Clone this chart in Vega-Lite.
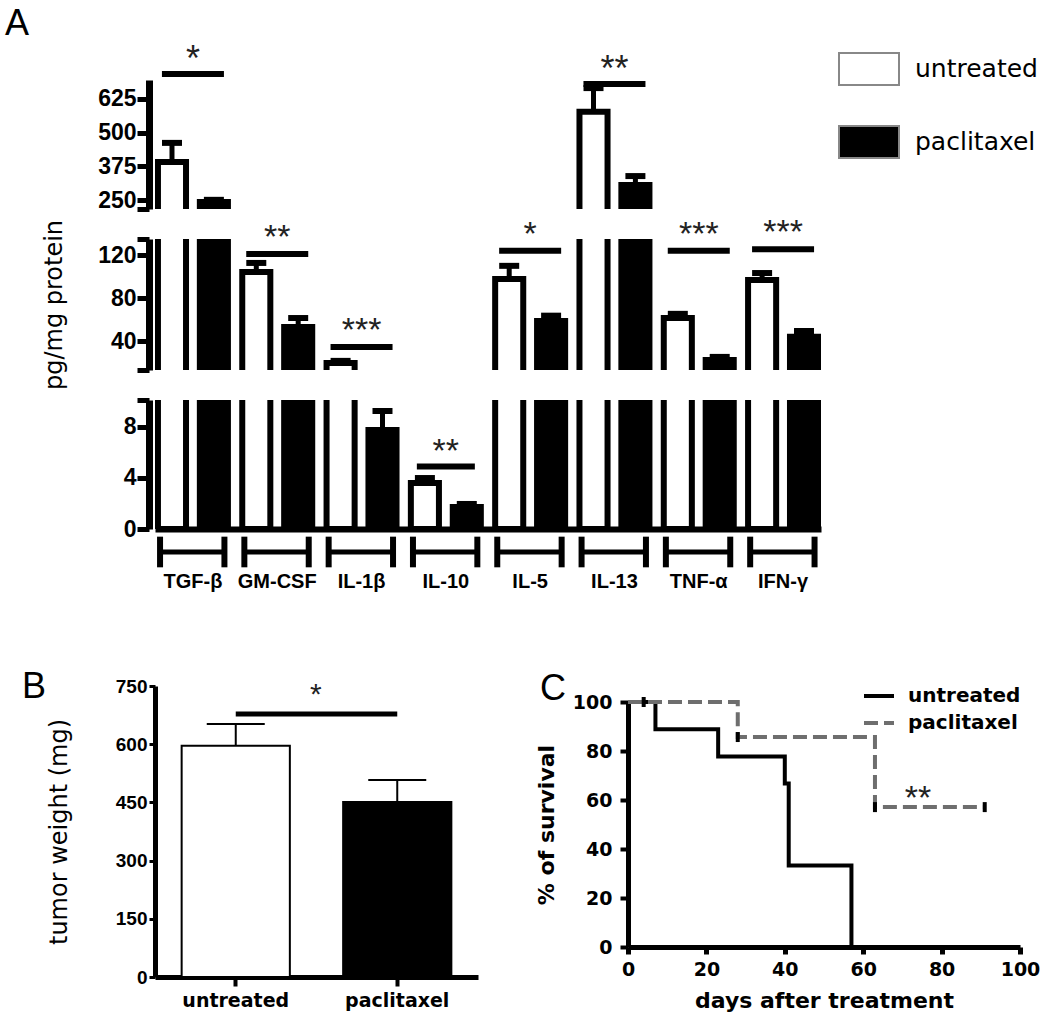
{
  "$schema": "https://vega.github.io/schema/vega-lite/v6.json",
  "padding": {"left": 5, "top": 6, "right": 5, "bottom": 5},
  "autosize": {"type": "pad"},
  "background": "white",
  "datasets": {
    "cyto": [
      {"cytokine": "TGF-β", "group": "untreated", "mean": 391, "upper": 462},
      {"cytokine": "TGF-β", "group": "paclitaxel", "mean": 243, "upper": 251},
      {"cytokine": "GM-CSF", "group": "untreated", "mean": 104.3, "upper": 112.7},
      {"cytokine": "GM-CSF", "group": "paclitaxel", "mean": 53.1, "upper": 61.4},
      {"cytokine": "IL-1β", "group": "untreated", "mean": 19.6, "upper": 21.5},
      {"cytokine": "IL-1β", "group": "paclitaxel", "mean": 7.75, "upper": 9.24},
      {"cytokine": "IL-10", "group": "untreated", "mean": 3.6, "upper": 3.99},
      {"cytokine": "IL-10", "group": "paclitaxel", "mean": 1.72, "upper": 1.96},
      {"cytokine": "IL-5", "group": "untreated", "mean": 97.7, "upper": 110},
      {"cytokine": "IL-5", "group": "paclitaxel", "mean": 58.6, "upper": 63.6},
      {"cytokine": "IL-13", "group": "untreated", "mean": 577, "upper": 665},
      {"cytokine": "IL-13", "group": "paclitaxel", "mean": 306, "upper": 339},
      {"cytokine": "TNF-α", "group": "untreated", "mean": 61.4, "upper": 65.3},
      {"cytokine": "TNF-α", "group": "paclitaxel", "mean": 22.4, "upper": 25.2},
      {"cytokine": "IFN-γ", "group": "untreated", "mean": 96.8, "upper": 103.3},
      {"cytokine": "IFN-γ", "group": "paclitaxel", "mean": 43.9, "upper": 49.3}
    ],
    "sig": [
      {"section": "top", "cytokine": "TGF-β", "level": 717, "label": "*"},
      {"section": "top", "cytokine": "IL-13", "level": 680, "label": "**"},
      {"section": "mid", "cytokine": "GM-CSF", "level": 121, "label": "**"},
      {"section": "mid", "cytokine": "IL-1β", "level": 34.4, "label": "***"},
      {"section": "mid", "cytokine": "IL-5", "level": 124, "label": "*"},
      {"section": "mid", "cytokine": "TNF-α", "level": 124, "label": "***"},
      {"section": "mid", "cytokine": "IFN-γ", "level": 125.5, "label": "***"},
      {"section": "bottom", "cytokine": "IL-10", "level": 4.9, "label": "**"}
    ],
    "tumor": [
      {"group": "untreated", "mean": 596, "upper": 652},
      {"group": "paclitaxel", "mean": 451, "upper": 508}
    ],
    "sigB": [
      {"from": "untreated", "to": "paclitaxel", "level": 678, "label": "*"}
    ],
    "surv": [
      {"group": "untreated", "day": 0, "pct": 100},
      {"group": "untreated", "day": 7, "pct": 88.9},
      {"group": "untreated", "day": 23, "pct": 77.8},
      {"group": "untreated", "day": 40, "pct": 66.7},
      {"group": "untreated", "day": 41, "pct": 33.3},
      {"group": "untreated", "day": 57, "pct": 0},
      {"group": "paclitaxel", "day": 0, "pct": 100},
      {"group": "paclitaxel", "day": 28, "pct": 85.7},
      {"group": "paclitaxel", "day": 63, "pct": 57.1},
      {"group": "paclitaxel", "day": 91, "pct": 57.1}
    ],
    "censor": [
      {"group": "untreated", "day": 4, "pct": 100},
      {"group": "paclitaxel", "day": 28, "pct": 85.7},
      {"group": "paclitaxel", "day": 63, "pct": 57.1},
      {"group": "paclitaxel", "day": 91, "pct": 57.1}
    ],
    "sigC": [
      {"day": 74, "pct": 57.1, "label": "**"}
    ]
  },
  "spacing": 30,
  "bounds": "flush",
  "resolve": {"scale": {"fill": "independent", "color": "independent", "strokeDash": "independent"}},
  "vconcat": [
    {
      "width": 666, "height": 129,
      "title": {"text": "A", "dx": -150, "dy": 1, "offset": -4},
      "encoding": {
        "x": {"field": "cytokine", "type": "nominal", "sort": ["TGF-β", "GM-CSF", "IL-1β", "IL-10", "IL-5", "IL-13", "TNF-α", "IFN-γ"], "scale": {"paddingInner": 0.17, "paddingOuter": 0.035}, "axis": null}
      },
      "layer": [
        {
          "data": {"name": "cyto"},
          "mark": {"type": "bar", "clip": true, "stroke": "black", "strokeWidth": 6},
          "encoding": {
            "xOffset": {"field": "group", "type": "nominal", "sort": ["untreated", "paclitaxel"], "scale": {"paddingInner": 0.33, "paddingOuter": 0}},
            "y": {"field": "mean", "type": "quantitative", "title": null, "scale": {"domain": [217, 695], "nice": false, "zero": false},
              "axis": {"values": [217, 250, 375, 500, 625], "tickCount": 20, "labelExpr": "datum.value < 240 ? '' : datum.label", "labelOverlap": false, "title": null, "offset": 6, "domainWidth": 7, "tickWidth": 5, "tickSize": 12, "labelFontSize": 23, "labelPadding": 1}},
            "y2": {"datum": 0},
            "fill": {"field": "group", "type": "nominal", "scale": {"domain": ["untreated", "paclitaxel"], "range": ["white", "black"]},
              "legend": {"orient": "none", "legendX": 683, "legendY": -42, "title": null, "symbolType": "M-1,-0.533H1V0.533H-1Z", "symbolSize": 3600, "symbolStrokeColor": "#888888", "symbolStrokeWidth": 2, "labelFont": "DejaVu Sans", "labelFontSize": 25, "labelFontWeight": "normal", "labelOffset": 15, "rowPadding": 22, "padding": 0, "labelColor": "black"}}
          }
        },
        {
          "data": {"name": "cyto"},
          "mark": {"type": "rule", "clip": true, "strokeWidth": 5, "color": "black"},
          "encoding": {
            "xOffset": {"field": "group", "type": "nominal", "sort": ["untreated", "paclitaxel"]},
            "y": {"field": "mean", "type": "quantitative", "title": null},
            "y2": {"field": "upper"}
          }
        },
        {
          "data": {"name": "cyto"},
          "mark": {"type": "tick", "clip": true, "thickness": 6, "size": 20, "orient": "horizontal", "color": "black", "opacity": 1},
          "encoding": {
            "xOffset": {"field": "group", "type": "nominal", "sort": ["untreated", "paclitaxel"]},
            "y": {"field": "upper", "type": "quantitative", "title": null}
          }
        },
        {
          "data": {"name": "sig"},
          "transform": [{"filter": "datum.section == 'top'"}],
          "mark": {"type": "tick", "thickness": 6, "size": 62, "orient": "horizontal", "color": "black", "opacity": 1},
          "encoding": {"y": {"field": "level", "type": "quantitative", "title": null}}
        },
        {
          "data": {"name": "sig"},
          "transform": [{"filter": "datum.section == 'top'"}],
          "mark": {"type": "text", "fontSize": 36, "font": "Liberation Sans", "baseline": "alphabetic", "dy": -3, "color": "#222222"},
          "encoding": {"y": {"field": "level", "type": "quantitative", "title": null}, "text": {"field": "label"}}
        }
      ]
    },
    {
      "width": 666, "height": 131,
      "encoding": {
        "x": {"field": "cytokine", "type": "nominal", "sort": ["TGF-β", "GM-CSF", "IL-1β", "IL-10", "IL-5", "IL-13", "TNF-α", "IFN-γ"], "scale": {"paddingInner": 0.17, "paddingOuter": 0.035}, "axis": null}
      },
      "layer": [
        {
          "data": {"name": "cyto"},
          "mark": {"type": "bar", "clip": true, "stroke": "black", "strokeWidth": 6},
          "encoding": {
            "xOffset": {"field": "group", "type": "nominal", "sort": ["untreated", "paclitaxel"], "scale": {"paddingInner": 0.33, "paddingOuter": 0}},
            "y": {"field": "mean", "type": "quantitative", "title": "pg/mg protein", "scale": {"domain": [13, 135], "nice": false, "zero": false},
              "axis": {"values": [13, 40, 80, 120, 135], "tickCount": 20, "labelExpr": "(datum.value < 20 || datum.value > 130) ? '' : datum.label", "labelOverlap": false, "title": "pg/mg protein", "titleFont": "DejaVu Sans", "titleFontSize": 24, "titleFontWeight": "normal", "titlePadding": 31, "offset": 6, "domainWidth": 7, "tickWidth": 5, "tickSize": 12, "labelFontSize": 23, "labelPadding": 1}},
            "y2": {"datum": 0},
            "fill": {"field": "group", "type": "nominal", "scale": {"domain": ["untreated", "paclitaxel"], "range": ["white", "black"]}, "legend": null}
          }
        },
        {
          "data": {"name": "cyto"},
          "mark": {"type": "rule", "clip": true, "strokeWidth": 5, "color": "black"},
          "encoding": {
            "xOffset": {"field": "group", "type": "nominal", "sort": ["untreated", "paclitaxel"]},
            "y": {"field": "mean", "type": "quantitative", "title": "pg/mg protein"},
            "y2": {"field": "upper"}
          }
        },
        {
          "data": {"name": "cyto"},
          "mark": {"type": "tick", "clip": true, "thickness": 6, "size": 20, "orient": "horizontal", "color": "black", "opacity": 1},
          "encoding": {
            "xOffset": {"field": "group", "type": "nominal", "sort": ["untreated", "paclitaxel"]},
            "y": {"field": "upper", "type": "quantitative", "title": "pg/mg protein"}
          }
        },
        {
          "data": {"name": "sig"},
          "transform": [{"filter": "datum.section == 'mid'"}],
          "mark": {"type": "tick", "thickness": 6, "size": 62, "orient": "horizontal", "color": "black", "opacity": 1},
          "encoding": {"y": {"field": "level", "type": "quantitative", "title": "pg/mg protein"}}
        },
        {
          "data": {"name": "sig"},
          "transform": [{"filter": "datum.section == 'mid'"}],
          "mark": {"type": "text", "fontSize": 34, "font": "Liberation Sans", "baseline": "alphabetic", "dy": -6, "color": "#222222"},
          "encoding": {"y": {"field": "level", "type": "quantitative", "title": "pg/mg protein"}, "text": {"field": "label"}}
        }
      ]
    },
    {
      "width": 666, "height": 129,
      "encoding": {
        "x": {"field": "cytokine", "type": "nominal", "sort": ["TGF-β", "GM-CSF", "IL-1β", "IL-10", "IL-5", "IL-13", "TNF-α", "IFN-γ"], "scale": {"paddingInner": 0.17, "paddingOuter": 0.035},
          "axis": {"title": null, "labelAngle": 0, "ticks": false, "domainWidth": 6, "labelPadding": 42, "labelFontSize": 20, "labelFont": "Liberation Sans", "labelFontWeight": "bold"}}
      },
      "layer": [
        {
          "data": {"name": "cyto"},
          "mark": {"type": "bar", "clip": true, "stroke": "black", "strokeWidth": 6},
          "encoding": {
            "xOffset": {"field": "group", "type": "nominal", "sort": ["untreated", "paclitaxel"], "scale": {"paddingInner": 0.33, "paddingOuter": 0}},
            "y": {"field": "mean", "type": "quantitative", "title": null, "scale": {"domain": [0, 10.1], "nice": false, "zero": false},
              "axis": {"values": [0, 4, 8, 10.1], "tickCount": 20, "format": ".0f", "labelExpr": "datum.value > 10 ? '' : datum.label", "labelOverlap": false, "title": null, "offset": 6, "domainWidth": 7, "tickWidth": 5, "tickSize": 12, "labelFontSize": 23, "labelPadding": 1}},
            "y2": {"datum": 0},
            "fill": {"field": "group", "type": "nominal", "scale": {"domain": ["untreated", "paclitaxel"], "range": ["white", "black"]}, "legend": null}
          }
        },
        {
          "data": {"name": "cyto"},
          "mark": {"type": "rule", "clip": true, "strokeWidth": 5, "color": "black"},
          "encoding": {
            "xOffset": {"field": "group", "type": "nominal", "sort": ["untreated", "paclitaxel"]},
            "y": {"field": "mean", "type": "quantitative", "title": null},
            "y2": {"field": "upper"}
          }
        },
        {
          "data": {"name": "cyto"},
          "mark": {"type": "tick", "clip": true, "thickness": 6, "size": 20, "orient": "horizontal", "color": "black", "opacity": 1},
          "encoding": {
            "xOffset": {"field": "group", "type": "nominal", "sort": ["untreated", "paclitaxel"]},
            "y": {"field": "upper", "type": "quantitative", "title": null}
          }
        },
        {
          "data": {"name": "sig"},
          "transform": [{"filter": "datum.section == 'bottom'"}],
          "mark": {"type": "tick", "thickness": 6, "size": 58, "orient": "horizontal", "color": "black", "opacity": 1},
          "encoding": {"y": {"field": "level", "type": "quantitative", "title": null}}
        },
        {
          "data": {"name": "sig"},
          "transform": [{"filter": "datum.section == 'bottom'"}],
          "mark": {"type": "text", "fontSize": 34, "font": "Liberation Sans", "baseline": "alphabetic", "dy": -4, "color": "#222222"},
          "encoding": {"y": {"field": "level", "type": "quantitative", "title": null}, "text": {"field": "label"}}
        },
        {
          "data": {"name": "cyto"},
          "transform": [{"filter": "datum.group == 'untreated'"}],
          "mark": {"type": "tick", "thickness": 5, "size": 66, "orient": "horizontal", "color": "black", "opacity": 1},
          "encoding": {"y": {"datum": -1.8, "type": "quantitative"}}
        },
        {
          "data": {"name": "cyto"},
          "transform": [{"filter": "datum.group == 'untreated'"}],
          "mark": {"type": "rule", "strokeWidth": 6, "color": "black"},
          "encoding": {
            "x": {"field": "cytokine", "type": "nominal", "sort": ["TGF-β", "GM-CSF", "IL-1β", "IL-10", "IL-5", "IL-13", "TNF-α", "IFN-γ"], "bandPosition": 0.03},
            "y": {"datum": -0.6, "type": "quantitative"},
            "y2": {"datum": -3.0}
          }
        },
        {
          "data": {"name": "cyto"},
          "transform": [{"filter": "datum.group == 'untreated'"}],
          "mark": {"type": "rule", "strokeWidth": 6, "color": "black"},
          "encoding": {
            "x": {"field": "cytokine", "type": "nominal", "sort": ["TGF-β", "GM-CSF", "IL-1β", "IL-10", "IL-5", "IL-13", "TNF-α", "IFN-γ"], "bandPosition": 0.95},
            "y": {"datum": -0.6, "type": "quantitative"},
            "y2": {"datum": -3.0}
          }
        }
      ]
    },
    {
      "width": 10, "height": 97,
      "data": {"values": [{}]},
      "mark": {"type": "point", "opacity": 0},
      "encoding": {}
    },
    {
      "resolve": {"scale": {"fill": "independent", "color": "independent", "strokeDash": "independent"}},
      "hconcat": [
        {
          "width": 323, "height": 291,
          "title": {"text": "B", "dx": -133, "dy": 33},
          "encoding": {
            "x": {"field": "group", "type": "nominal", "sort": ["untreated", "paclitaxel"], "scale": {"domain": ["untreated", "paclitaxel"], "paddingInner": 0.33, "paddingOuter": 0.165},
              "axis": {"title": null, "labelAngle": 0, "labelFont": "DejaVu Sans", "labelFontWeight": "bold", "labelFontSize": 19, "tickSize": 9, "tickWidth": 4, "domainWidth": 5, "labelPadding": 5}}
          },
          "layer": [
            {
              "data": {"name": "tumor"},
              "mark": {"type": "bar", "stroke": "black", "strokeWidth": 2},
              "encoding": {
                "y": {"field": "mean", "type": "quantitative", "scale": {"domain": [0, 750], "nice": false},
                  "axis": {"values": [0, 150, 300, 450, 600, 750], "tickCount": 20, "labelOverlap": false, "title": "tumor weight (mg)", "titleFont": "DejaVu Sans", "titleFontSize": 24, "titleFontWeight": "normal", "titlePadding": 44, "labelFontSize": 19, "tickSize": 6, "tickWidth": 3, "domainWidth": 5, "labelPadding": 2}},
                "fill": {"field": "group", "type": "nominal", "scale": {"domain": ["untreated", "paclitaxel"], "range": ["white", "black"]}, "legend": null}
              }
            },
            {
              "data": {"name": "tumor"},
              "mark": {"type": "rule", "strokeWidth": 2, "color": "black"},
              "encoding": {"y": {"field": "mean", "type": "quantitative"}, "y2": {"field": "upper"}}
            },
            {
              "data": {"name": "tumor"},
              "mark": {"type": "tick", "thickness": 2, "size": 58, "orient": "horizontal", "color": "black", "opacity": 1},
              "encoding": {"y": {"field": "upper", "type": "quantitative"}}
            },
            {
              "data": {"name": "sigB"},
              "mark": {"type": "rule", "strokeWidth": 5, "color": "black"},
              "encoding": {
                "x": {"field": "from", "type": "nominal", "sort": ["untreated", "paclitaxel"]},
                "x2": {"field": "to"},
                "y": {"field": "level", "type": "quantitative"}
              }
            },
            {
              "data": {"name": "sigB"},
              "mark": {"type": "text", "fontSize": 30, "font": "Liberation Sans", "baseline": "alphabetic", "dx": 80, "dy": -10, "color": "#222222"},
              "encoding": {
                "x": {"field": "from", "type": "nominal", "sort": ["untreated", "paclitaxel"]},
                "y": {"field": "level", "type": "quantitative"},
                "text": {"field": "label"}
              }
            }
          ]
        },
        {
          "resolve": {"scale": {"color": "independent", "strokeDash": "independent"}},
          "vconcat": [
            {
              "width": 10, "height": 1,
              "data": {"values": [{}]},
              "mark": {"type": "point", "opacity": 0},
              "encoding": {}
            },
            {
              "width": 392, "height": 245,
              "title": {"text": "C", "dx": -88, "dy": 33},
              "layer": [
                {
                  "data": {"name": "surv"},
                  "mark": {"type": "line", "interpolate": "step-after", "strokeWidth": 4},
                  "encoding": {
                    "x": {"field": "day", "type": "quantitative", "scale": {"domain": [0, 100], "nice": false},
                      "axis": {"values": [0, 20, 40, 60, 80, 100], "tickCount": 20, "labelOverlap": false, "title": "days after treatment", "titleFont": "DejaVu Sans", "titleFontWeight": "bold", "titleFontSize": 22, "titlePadding": 11, "labelFont": "DejaVu Sans", "labelFontSize": 19, "tickSize": 7, "tickWidth": 5, "domainWidth": 5, "labelPadding": 6}},
                    "y": {"field": "pct", "type": "quantitative", "scale": {"domain": [0, 100], "nice": false},
                      "axis": {"values": [0, 20, 40, 60, 80, 100], "tickCount": 20, "labelOverlap": false, "title": "% of survival", "titleFont": "DejaVu Sans", "titleFontWeight": "bold", "titleFontSize": 22, "titlePadding": 14, "labelFont": "DejaVu Sans", "labelFontSize": 19, "tickSize": 8, "tickWidth": 4, "domainWidth": 5, "labelPadding": 8}},
                    "color": {"field": "group", "type": "nominal", "scale": {"domain": ["untreated", "paclitaxel"], "range": ["black", "#6e6e6e"]},
                      "legend": {"orient": "none", "legendX": 234, "legendY": -23, "title": null, "symbolType": "stroke", "symbolSize": 900, "symbolStrokeWidth": 4, "labelFont": "DejaVu Sans", "labelFontWeight": "bold", "labelFontSize": 20, "labelOffset": 12, "rowPadding": 0, "padding": 0, "labelColor": "black"}},
                    "strokeDash": {"field": "group", "type": "nominal", "scale": {"domain": ["untreated", "paclitaxel"], "range": [[1, 0], [14, 6]]},
                      "legend": {"orient": "none", "legendX": 234, "legendY": -23, "title": null, "symbolType": "stroke", "symbolSize": 900, "symbolStrokeWidth": 4, "labelFont": "DejaVu Sans", "labelFontWeight": "bold", "labelFontSize": 20, "labelOffset": 12, "rowPadding": 0, "padding": 0, "labelColor": "black"}}
                  }
                },
                {
                  "data": {"name": "censor"},
                  "mark": {"type": "tick", "orient": "vertical", "size": 10, "thickness": 4, "color": "black", "opacity": 1},
                  "encoding": {
                    "x": {"field": "day", "type": "quantitative"},
                    "y": {"field": "pct", "type": "quantitative"}
                  }
                },
                {
                  "data": {"name": "sigC"},
                  "mark": {"type": "text", "fontSize": 34, "font": "Liberation Sans", "baseline": "alphabetic", "dy": 2, "color": "#222222"},
                  "encoding": {
                    "x": {"field": "day", "type": "quantitative"},
                    "y": {"field": "pct", "type": "quantitative"},
                    "text": {"field": "label"}
                  }
                }
              ]
            }
          ],
          "spacing": 15,
          "bounds": "flush"
        }
      ],
      "spacing": 150,
      "bounds": "flush"
    }
  ],
  "config": {
    "view": {"stroke": null},
    "font": "Liberation Sans",
    "axis": {"domainColor": "black", "tickColor": "black", "labelColor": "black", "titleColor": "black", "grid": false, "labelFont": "Liberation Sans", "labelFontWeight": "bold", "labelFlush": false, "labelOverlap": false, "titleFontWeight": "normal"},
    "title": {"anchor": "start", "frame": "group", "font": "Liberation Sans", "fontSize": 36, "fontWeight": "normal", "color": "black", "offset": 0}
  }
}
